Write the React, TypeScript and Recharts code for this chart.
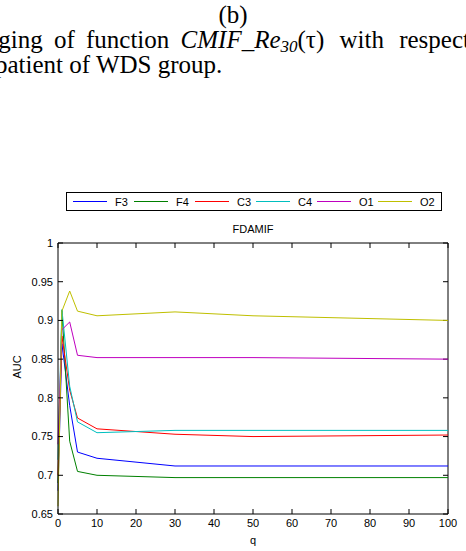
import React from 'react';
import { LineChart, Line, XAxis, YAxis, ReferenceLine } from 'recharts';

// q values and AUC per channel
const qValues = [0, 1, 3, 5, 10, 30, 50, 100];
const f3 = [0.68, 0.87, 0.79, 0.73, 0.722, 0.712, 0.712, 0.712];
const f4 = [0.69, 0.913, 0.744, 0.705, 0.7, 0.697, 0.697, 0.697];
const c3 = [0.7, 0.88, 0.81, 0.774, 0.76, 0.753, 0.75, 0.752];
const c4 = [0.72, 0.914, 0.815, 0.769, 0.755, 0.758, 0.758, 0.758];
const o1 = [0.74, 0.888, 0.898, 0.855, 0.852, 0.852, 0.852, 0.85];
const o2 = [0.66, 0.912, 0.938, 0.912, 0.906, 0.911, 0.906, 0.9];

const xTicks = [0, 10, 20, 30, 40, 50, 60, 70, 80, 90, 100];
const yTicks = [0.65, 0.7, 0.75, 0.8, 0.85, 0.9, 0.95, 1];

const seriesNames = ['F3', 'F4', 'C3', 'C4', 'O1', 'O2'];
const seriesColors = ['#0000ff', '#008000', '#ff0000', '#00bfbf', '#bf00bf', '#bfbf00'];
const seriesValues = [f3, f4, c3, c4, o1, o2];

const data = qValues.map((q, i) => {
  const row: Record<string, number> = { q };
  seriesNames.forEach((name, s) => {
    row[name] = seriesValues[s][i];
  });
  return row;
});

const sans = '"Liberation Sans", Arial, sans-serif';
const serif = '"Liberation Serif", "Times New Roman", serif';

const fmt = (v: number) => String(parseFloat(v.toFixed(2)));

// inward tick length in data units for the mirrored (top / right) axes
const xMin = 0, xMax = 100, yMin = 0.65, yMax = 1;
const tickDy = ((yMax - yMin) * 5) / 271;
const tickDx = ((xMax - xMin) * 5) / 390;

const captionStyle: React.CSSProperties = {
  position: 'absolute',
  whiteSpace: 'nowrap',
  fontFamily: serif,
  fontSize: 25,
  lineHeight: '25px',
  color: '#000',
};

function LegendBox() {
  return (
    <svg width={378} height={21} style={{ position: 'absolute', left: 65, top: 191 }}>
      <rect x={1.5} y={1.5} width={375} height={18} fill="#fff" stroke="#000" strokeWidth={1} />
      {seriesNames.map((name, i) => {
        const x0 = 8 + i * 61;
        return (
          <g key={name}>
            <line x1={x0} y1={10.5} x2={x0 + 34} y2={10.5} stroke={seriesColors[i]} strokeWidth={1} />
            <text x={x0 + 42} y={14.5} fontSize={11} fontFamily={sans} fill="#000">
              {name}
            </text>
          </g>
        );
      })}
    </svg>
  );
}

export default function App() {
  return (
    <div
      style={{
        position: 'fixed',
        left: 0,
        top: 0,
        width: 466,
        height: 551,
        overflow: 'hidden',
        background: '#fff',
      }}
    >
      {/* caption fragment above the figure (justified line, hence the wide spaces) */}
      <div style={{ ...captionStyle, top: 2, left: 0, width: 466, textAlign: 'center' }}>(b)</div>
      <div style={{ ...captionStyle, top: 27, left: -61, wordSpacing: 5 }}>
        Averaging of function <i>CMIF_Re<sub style={{ fontSize: 17, verticalAlign: -4 }}>30</sub></i>(τ)
        <span style={{ wordSpacing: 9 }}> with respect to</span>
      </div>
      <div style={{ ...captionStyle, top: 52, left: -5 }}>patient of WDS group.</div>

      <div style={{ position: 'absolute', left: 58, top: 223, width: 390, textAlign: 'center', fontFamily: sans, fontSize: 11 }}>
        FDAMIF
      </div>

      <div style={{ position: 'absolute', left: 0, top: 0 }}>
        <LineChart width={466} height={551} data={data} margin={{ top: 243, right: 18, bottom: 0, left: 0 }}>
          <XAxis
            dataKey="q"
            type="number"
            domain={[xMin, xMax]}
            ticks={xTicks}
            height={37}
            tickSize={-5}
            tickMargin={10}
            stroke="#000"
            tick={{ fill: '#000', fontSize: 11, fontFamily: sans }}
            label={{ value: 'q', position: 'insideBottom', offset: 7, fill: '#000', fontSize: 11, fontFamily: sans }}
          />
          <YAxis
            type="number"
            domain={[yMin, yMax]}
            ticks={yTicks}
            width={58}
            tickSize={-5}
            tickMargin={10}
            tickFormatter={fmt}
            stroke="#000"
            tick={{ fill: '#000', fontSize: 11, fontFamily: sans }}
            label={{ value: 'AUC', angle: -90, position: 'insideLeft', offset: 17, fill: '#000', fontSize: 11, fontFamily: sans }}
          />
          {/* top and right frame with inward ticks */}
          <ReferenceLine y={yMax} stroke="#000" />
          <ReferenceLine x={xMax} stroke="#000" />
          {xTicks.map((t) => (
            <ReferenceLine
              key={`xt-${t}`}
              segment={[{ x: t, y: yMax }, { x: t, y: yMax - tickDy }]}
              stroke="#000"
            />
          ))}
          {yTicks.map((t) => (
            <ReferenceLine
              key={`yt-${t}`}
              segment={[{ x: xMax, y: t }, { x: xMax - tickDx, y: t }]}
              stroke="#000"
            />
          ))}
          {seriesNames.map((name, i) => (
            <Line
              key={name}
              type="linear"
              dataKey={name}
              stroke={seriesColors[i]}
              strokeWidth={1}
              dot={false}
              isAnimationActive={false}
            />
          ))}
        </LineChart>
      </div>

      <LegendBox />
    </div>
  );
}
